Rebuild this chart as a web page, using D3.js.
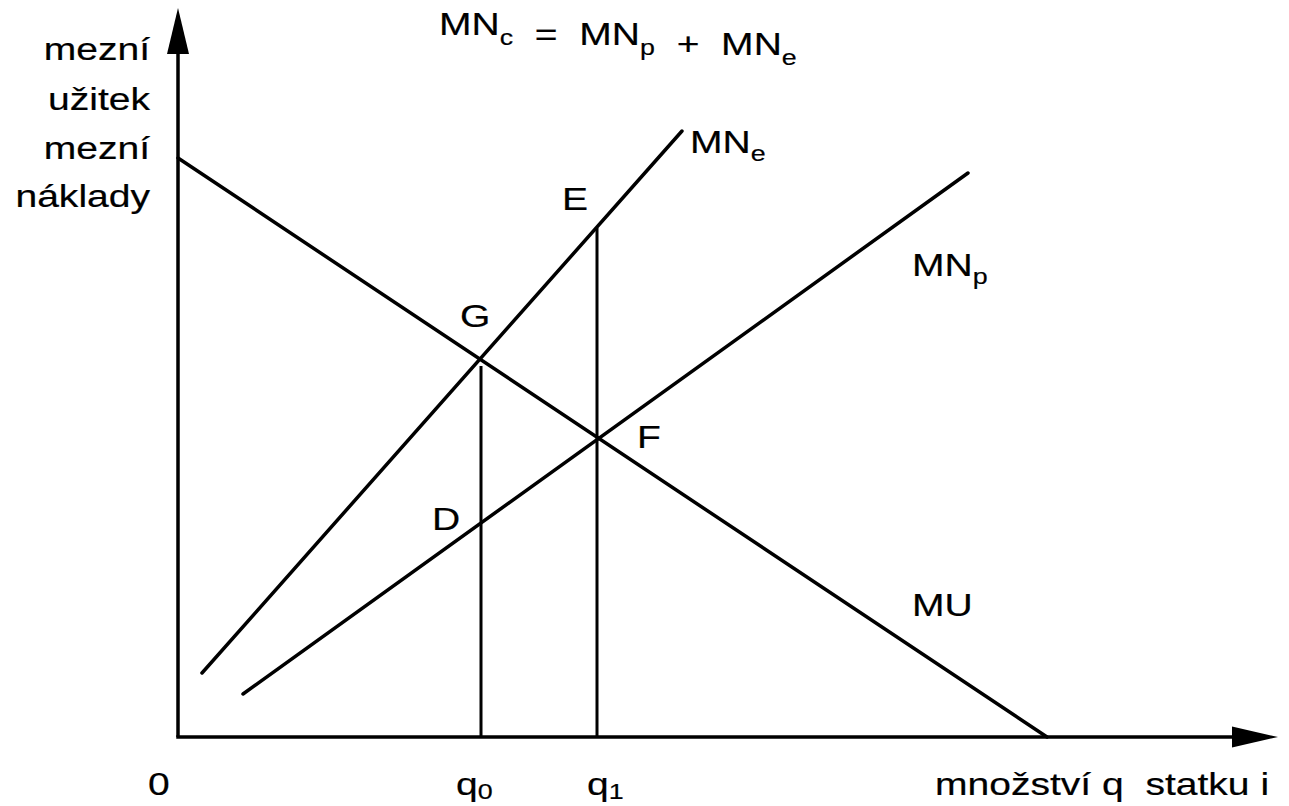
<!DOCTYPE html>
<html><head><meta charset="utf-8">
<script src="https://cdn.jsdelivr.net/npm/d3@7"></script>
<style>body{margin:0;background:#fff}svg{display:block}</style>
</head><body>
<svg id="c" width="1289" height="806"></svg>
<script>
// data (q units, value units)
const curveNames = ["MU", "MNe", "MNp"];
const muLine  = [[0, 57.9], [86.9, 0]];
const mneLine = [[2.4, 6.4], [50.4, 60.6]];
const mnpLine = [[6.5, 4.3], [79.0, 56.4]];
const qValues = [30.3, 41.9];          // q0, q1
const qTops   = [37.1, 50.9];          // top of dropped verticals
const qLabels = ["0", "1"];
const pointNames = ["G", "E", "D", "F"];

const svg = d3.select("#c");
const x = d3.scaleLinear().domain([0, 110]).range([178, 1278]);
const y = d3.scaleLinear().domain([0, 73]).range([737, 7]);
const SX = 1.22, FS = 32, SUB = 22;

function label(px, py, parts, anchor) {
  const g = svg.append("g").attr("transform", `translate(${px},${py}) scale(${SX},1)`);
  const t = g.append("text").attr("font-family", "Liberation Sans, Arial, sans-serif")
    .attr("font-size", FS).attr("fill", "#000").attr("stroke", "#000").attr("stroke-width", 0.2)
    .attr("text-anchor", anchor || "start")
    .attr("xml:space", "preserve").style("white-space", "pre");
  parts.forEach(p => {
    if (typeof p === "string") t.append("tspan").text(p);
    else t.append("tspan").attr("font-size", SUB).attr("dy", p.dy).text(p.t);
  });
  return t;
}

// axes
svg.append("line").attr("x1", x(0)).attr("y1", y(0)).attr("x2", x(0)).attr("y2", 50)
  .attr("stroke", "#000").attr("stroke-width", 3.5);
svg.append("line").attr("x1", x(0) - 1.75).attr("y1", y(0)).attr("x2", 1235).attr("y2", y(0))
  .attr("stroke", "#000").attr("stroke-width", 3.5);
svg.append("path").attr("d", `M${x(0)},8 L${x(0) - 11},54 L${x(0) + 11},54 Z`).attr("fill", "#000");
svg.append("path").attr("d", `M1278,${y(0)} L1232,${y(0) - 10.5} L1232,${y(0) + 10.5} Z`).attr("fill", "#000");

// curves
const lineGen = d3.line().x(d => x(d[0])).y(d => y(d[1]));
[muLine, mneLine, mnpLine].forEach(d => {
  svg.append("path").attr("d", lineGen(d)).attr("fill", "none").attr("stroke", "#000")
    .attr("stroke-width", 3.5).attr("stroke-linecap", "round");
});

// dropped verticals
qValues.forEach((q, i) => {
  svg.append("line").attr("x1", x(q)).attr("x2", x(q)).attr("y1", y(0)).attr("y2", y(qTops[i]))
    .attr("stroke", "#000").attr("stroke-width", 3);
});

// labels
label(439, 35, ["MN", {t: "c", dy: 10}, {t: "", dy: -10}, "  =  MN", {t: "p", dy: 10}, {t: "", dy: -10}, "  +  MN", {t: "e", dy: 10}]);
label(150, 60, ["mezní"], "end");
label(150, 110, ["užitek"], "end");
label(150, 159, ["mezní"], "end");
label(150, 207, ["náklady"], "end");
label(690, 153, ["MN", {t: "e", dy: 8}]);
label(912, 276, ["MN", {t: "p", dy: 8}]);
label(912, 616, [curveNames[0]]);
label(460, 327, [pointNames[0]]);
label(562, 210, [pointNames[1]]);
label(432, 530, [pointNames[2]]);
label(637, 448, [pointNames[3]]);
label(148, 795, ["0"]);
label(456, 795, ["q", {t: qLabels[0], dy: 4}]);
label(587, 795, ["q", {t: qLabels[1], dy: 4}]);
label(935, 795, ["množství q  statku i"]);
</script>
</body></html>
